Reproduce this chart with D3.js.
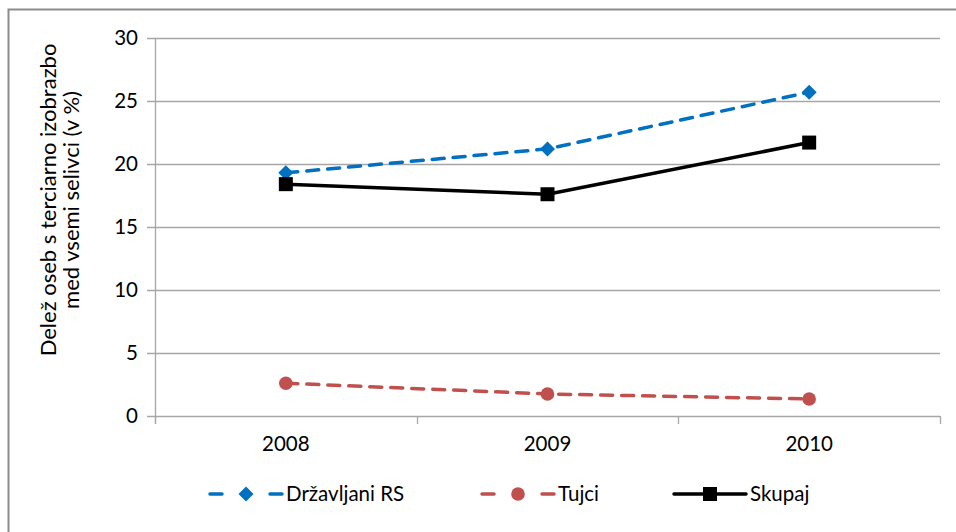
<!DOCTYPE html>
<html><head><meta charset="utf-8">
<script src="https://cdn.jsdelivr.net/npm/d3@7"></script>
<style>body{margin:0;background:#fff}svg{display:block}text{font-family:Lato,"Open Sans",sans-serif;fill:#000}</style>
</head><body>
<svg id="c" width="956" height="532"></svg>
<script>
const years = ["2008","2009","2010"];
const drzavljani = [19.3, 21.2, 25.7];
const tujci = [2.6, 1.75, 1.35];
const skupaj = [18.4, 17.6, 21.7];
const yTicks = [0,5,10,15,20,25,30];
const seriesNames = ["Državljani RS","Tujci","Skupaj"];
const yLabelLines = ["Delež oseb s terciarno izobrazbo","med vsemi selivci (v %)"];

const svg = d3.select("#c");
svg.append("rect").attr("x",8.5).attr("y",9.5).attr("width",1000).attr("height",1000).attr("fill","#fff").attr("stroke","#8c8c8c").attr("stroke-width",2);

const L=155, R=940, T=38, B=416;
const x = d3.scaleBand().domain(years).range([L,R]);
const y = d3.scaleLinear().domain([0,30]).range([B,T]);
const FS = 20.5;

const g = svg.append("g");
g.selectAll("line.grid").data(yTicks).join("line")
  .attr("x1",L-8).attr("x2",R).attr("y1",d=>Math.round(y(d))+0.5).attr("y2",d=>Math.round(y(d))+0.5)
  .attr("stroke","#a6a6a6").attr("stroke-width",1.3);
g.append("line").attr("x1",L+0.5).attr("x2",L+0.5).attr("y1",T).attr("y2",B+8).attr("stroke","#a6a6a6").attr("stroke-width",1.3);
const bounds = [L, ...years.slice(1).map(d=>x(d)), R];
g.selectAll("line.xt").data(bounds).join("line")
  .attr("x1",d=>Math.round(d)+0.5).attr("x2",d=>Math.round(d)+0.5).attr("y1",B).attr("y2",B+8)
  .attr("stroke","#a6a6a6").attr("stroke-width",1.3);
g.selectAll("text.yt").data(yTicks).join("text")
  .attr("x",L-17).attr("y",d=>y(d)).attr("dy","0.36em").attr("text-anchor","end")
  .attr("font-size",FS).text(d=>d);
g.selectAll("text.xt").data(years).join("text")
  .attr("x",d=>x(d)+x.bandwidth()/2).attr("y",B+35).attr("text-anchor","middle")
  .attr("font-size",FS).text(d=>d);

yLabelLines.forEach((t,i)=>{
  svg.append("text").attr("transform",`translate(${47+i*23},200) rotate(-90)`)
    .attr("text-anchor","middle").attr("dominant-baseline","central").attr("font-size",22).text(t);
});

const cx = d=>x(d)+x.bandwidth()/2;
const line = d3.line().x((v,i)=>cx(years[i])).y(v=>y(v));
const series = [
  {name:seriesNames[0], vals:drzavljani, color:"#0070c0", dash:"12 9", marker:"diamond"},
  {name:seriesNames[1], vals:tujci, color:"#c0504d", dash:"12 9", marker:"circle"},
  {name:seriesNames[2], vals:skupaj, color:"#000", dash:null, marker:"square"}
];
function marker(sel, s, px, py){
  if(s.marker==="diamond") sel.append("path").attr("d",`M${px},${py-7.5}L${px+7.5},${py}L${px},${py+7.5}L${px-7.5},${py}Z`).attr("fill",s.color);
  else if(s.marker==="circle") sel.append("circle").attr("cx",px).attr("cy",py).attr("r",6.8).attr("fill",s.color);
  else sel.append("rect").attr("x",px-7).attr("y",py-7).attr("width",14).attr("height",14).attr("fill",s.color);
}
series.forEach(s=>{
  g.append("path").attr("d",line(s.vals)).attr("fill","none").attr("stroke",s.color).attr("stroke-width",3.5)
   .attr("stroke-dasharray",s.dash).attr("stroke-linecap",s.dash?"round":"butt").attr("stroke-linejoin","round");
  s.vals.forEach((v,i)=>marker(g,s,cx(years[i]),y(v)));
});

const legX = [210, 482, 674];
series.forEach((s,i)=>{
  const lg = svg.append("g");
  const x0=legX[i], ly=494;
  if(s.dash){
    lg.append("line").attr("x1",x0).attr("x2",x0+12).attr("y1",ly).attr("y2",ly).attr("stroke",s.color).attr("stroke-width",3.5).attr("stroke-linecap","round");
    lg.append("line").attr("x1",x0+60).attr("x2",x0+72).attr("y1",ly).attr("y2",ly).attr("stroke",s.color).attr("stroke-width",3.5).attr("stroke-linecap","round");
  } else {
    lg.append("line").attr("x1",x0).attr("x2",x0+72).attr("y1",ly).attr("y2",ly).attr("stroke",s.color).attr("stroke-width",3.5).attr("stroke-linecap","round");
  }
  marker(lg,s,x0+36,ly);
  lg.append("text").attr("x",x0+76).attr("y",ly).attr("dy","0.36em").attr("font-size",FS).text(s.name);
});
</script>
</body></html>
